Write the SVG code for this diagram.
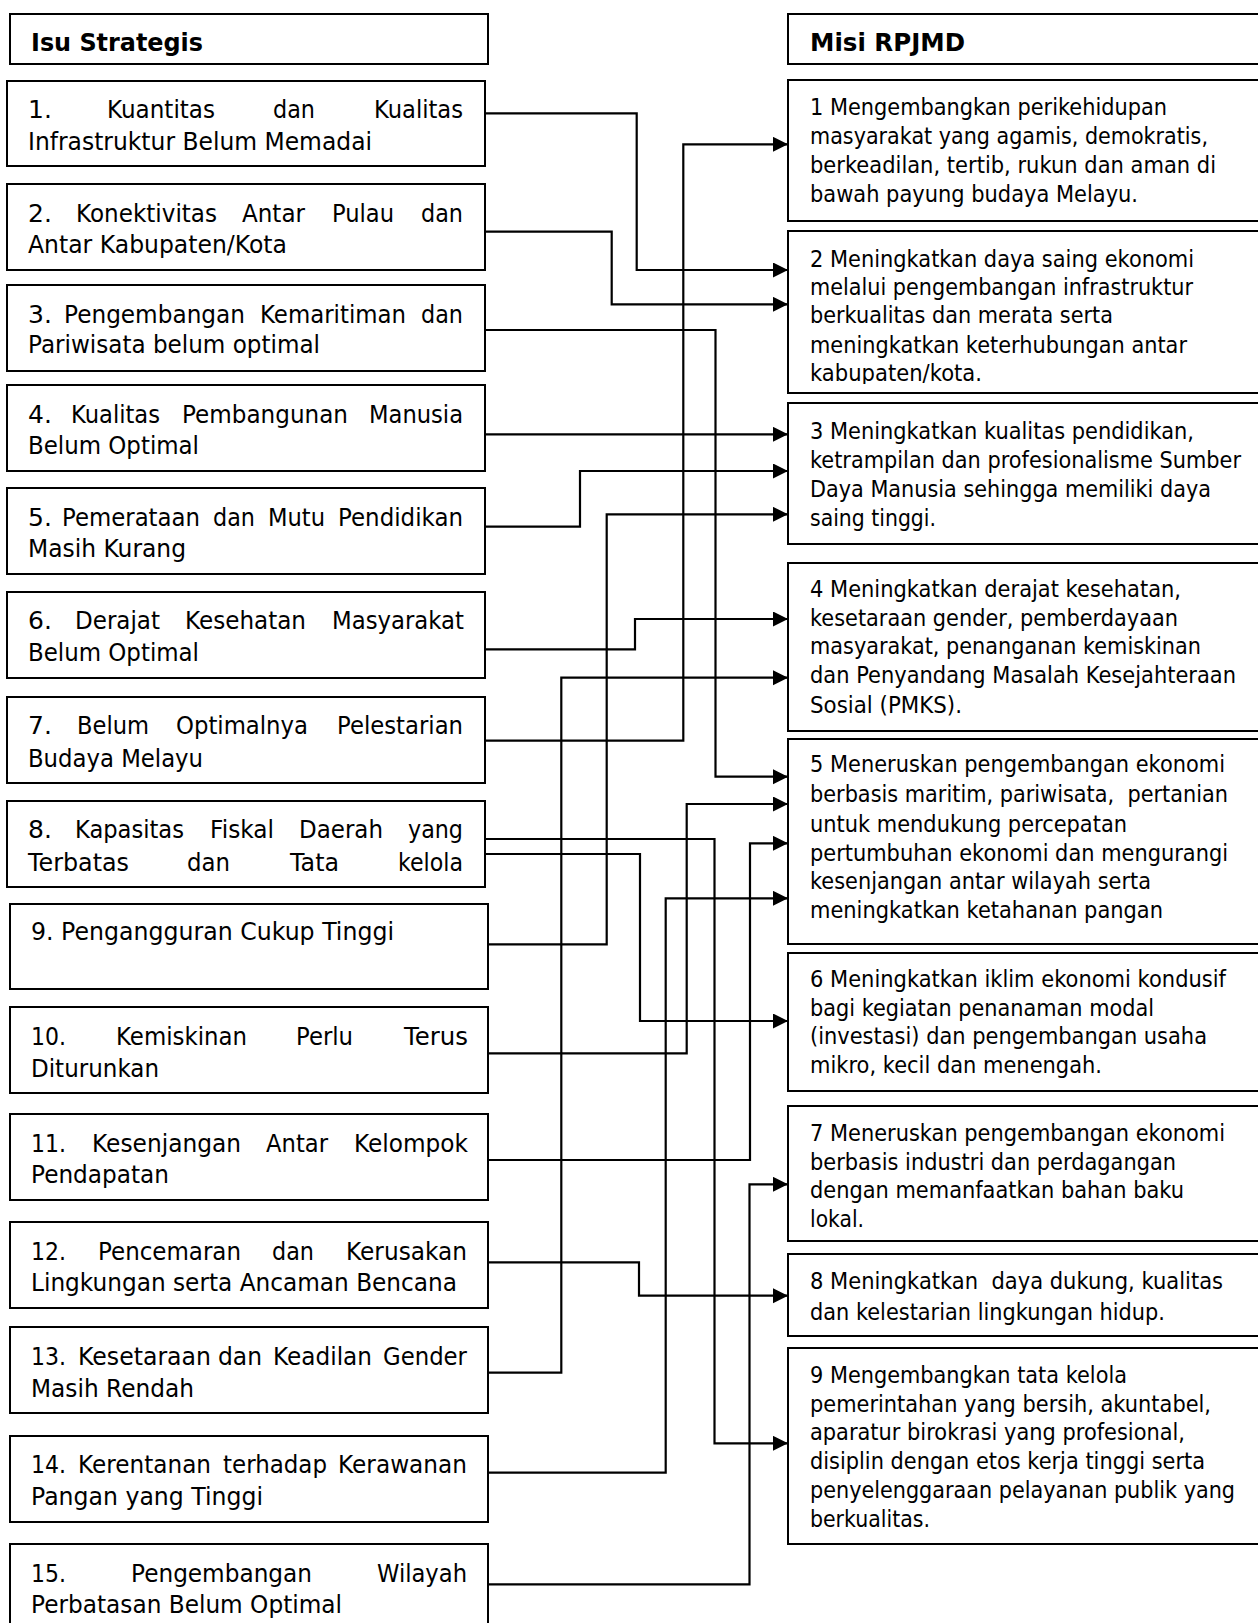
<svg xmlns="http://www.w3.org/2000/svg" width="1258" height="1623" viewBox="0 0 1258 1623">
<style>
.box{fill:#fff;stroke:#000;stroke-width:2}
text{font-family:"DejaVu Sans","Liberation Sans",sans-serif;fill:#000}
.l{font-size:25px}
.r{font-size:22.5px}
.b{font-weight:bold;font-size:25px}
.c{fill:none;stroke:#000;stroke-width:2.2}
</style>
<defs>
<marker id="ah" markerUnits="userSpaceOnUse" markerWidth="16" markerHeight="16" refX="15" refY="7.5" orient="auto">
<path d="M0,0 L15,7.5 L0,15 z" fill="#000"/>
</marker>
<clipPath id="clipR2"><rect x="788" y="231" width="480" height="153"/></clipPath>
</defs>
<rect width="1258" height="1623" fill="#fff"/>

<g id="hdr-left">
<rect class="box" x="10" y="14" width="478" height="50"/>
<text class="b" x="31" y="50.7" textLength="172" lengthAdjust="spacingAndGlyphs">Isu Strategis</text>
</g>
<g id="hdr-right">
<rect class="box" x="788" y="14" width="480" height="50"/>
<text class="b" x="810" y="50.7" textLength="155" lengthAdjust="spacingAndGlyphs">Misi RPJMD</text>
</g>

<g id="isu1">
<rect class="box" x="7" y="81" width="478" height="85"/>
<text class="l" x="28" y="118.3">1.</text>
<text class="l" x="107" y="118.3" textLength="108" lengthAdjust="spacingAndGlyphs">Kuantitas</text>
<text class="l" x="273" y="118.3" textLength="42" lengthAdjust="spacingAndGlyphs">dan</text>
<text class="l" x="374" y="118.3" textLength="89" lengthAdjust="spacingAndGlyphs">Kualitas</text>
<text class="l" x="28" y="150" textLength="344" lengthAdjust="spacingAndGlyphs">Infrastruktur Belum Memadai</text>
</g>
<g id="isu2">
<rect class="box" x="7" y="184" width="478" height="86"/>
<text class="l" x="28" y="221.7">2.</text>
<text class="l" x="76" y="221.7" textLength="141" lengthAdjust="spacingAndGlyphs">Konektivitas</text>
<text class="l" x="242" y="221.7" textLength="63" lengthAdjust="spacingAndGlyphs">Antar</text>
<text class="l" x="332" y="221.7" textLength="62" lengthAdjust="spacingAndGlyphs">Pulau</text>
<text class="l" x="421" y="221.7" textLength="42" lengthAdjust="spacingAndGlyphs">dan</text>
<text class="l" x="28" y="253" textLength="259" lengthAdjust="spacingAndGlyphs">Antar Kabupaten/Kota</text>
</g>
<g id="isu3">
<rect class="box" x="7" y="285" width="478" height="86"/>
<text class="l" x="28" y="322.7">3.</text>
<text class="l" x="64" y="322.7" textLength="181" lengthAdjust="spacingAndGlyphs">Pengembangan</text>
<text class="l" x="260" y="322.7" textLength="146" lengthAdjust="spacingAndGlyphs">Kemaritiman</text>
<text class="l" x="421" y="322.7" textLength="42" lengthAdjust="spacingAndGlyphs">dan</text>
<text class="l" x="28" y="353" textLength="292" lengthAdjust="spacingAndGlyphs">Pariwisata belum optimal</text>
</g>
<g id="isu4">
<rect class="box" x="7" y="385" width="478" height="86"/>
<text class="l" x="28" y="422.7">4.</text>
<text class="l" x="71" y="422.7" textLength="89" lengthAdjust="spacingAndGlyphs">Kualitas</text>
<text class="l" x="182" y="422.7" textLength="166" lengthAdjust="spacingAndGlyphs">Pembangunan</text>
<text class="l" x="369" y="422.7" textLength="94" lengthAdjust="spacingAndGlyphs">Manusia</text>
<text class="l" x="28" y="454" textLength="171" lengthAdjust="spacingAndGlyphs">Belum Optimal</text>
</g>
<g id="isu5">
<rect class="box" x="7" y="488" width="478" height="86"/>
<text class="l" x="28" y="525.7">5.</text>
<text class="l" x="62" y="525.7" textLength="138" lengthAdjust="spacingAndGlyphs">Pemerataan</text>
<text class="l" x="213" y="525.7" textLength="42" lengthAdjust="spacingAndGlyphs">dan</text>
<text class="l" x="268" y="525.7" textLength="57" lengthAdjust="spacingAndGlyphs">Mutu</text>
<text class="l" x="338" y="525.7" textLength="125" lengthAdjust="spacingAndGlyphs">Pendidikan</text>
<text class="l" x="28" y="556.7" textLength="158" lengthAdjust="spacingAndGlyphs">Masih Kurang</text>
</g>
<g id="isu6">
<rect class="box" x="7" y="592" width="478" height="86"/>
<text class="l" x="28" y="629">6.</text>
<text class="l" x="75" y="629" textLength="85" lengthAdjust="spacingAndGlyphs">Derajat</text>
<text class="l" x="185" y="629" textLength="121" lengthAdjust="spacingAndGlyphs">Kesehatan</text>
<text class="l" x="332" y="629" textLength="132" lengthAdjust="spacingAndGlyphs">Masyarakat</text>
<text class="l" x="28" y="660.7" textLength="171" lengthAdjust="spacingAndGlyphs">Belum Optimal</text>
</g>
<g id="isu7">
<rect class="box" x="7" y="697" width="478" height="86"/>
<text class="l" x="28" y="734">7.</text>
<text class="l" x="77" y="734" textLength="72" lengthAdjust="spacingAndGlyphs">Belum</text>
<text class="l" x="176" y="734" textLength="132" lengthAdjust="spacingAndGlyphs">Optimalnya</text>
<text class="l" x="337" y="734" textLength="126" lengthAdjust="spacingAndGlyphs">Pelestarian</text>
<text class="l" x="28" y="766.7" textLength="175" lengthAdjust="spacingAndGlyphs">Budaya Melayu</text>
</g>
<g id="isu8">
<rect class="box" x="7" y="801" width="478" height="86"/>
<text class="l" x="28" y="838">8.</text>
<text class="l" x="75" y="838" textLength="109" lengthAdjust="spacingAndGlyphs">Kapasitas</text>
<text class="l" x="210" y="838" textLength="64" lengthAdjust="spacingAndGlyphs">Fiskal</text>
<text class="l" x="299" y="838" textLength="84" lengthAdjust="spacingAndGlyphs">Daerah</text>
<text class="l" x="408" y="838" textLength="55" lengthAdjust="spacingAndGlyphs">yang</text>
<text class="l" x="28" y="871" textLength="101" lengthAdjust="spacingAndGlyphs">Terbatas</text>
<text class="l" x="187" y="871" textLength="43" lengthAdjust="spacingAndGlyphs">dan</text>
<text class="l" x="290" y="871" textLength="49" lengthAdjust="spacingAndGlyphs">Tata</text>
<text class="l" x="398" y="871" textLength="65" lengthAdjust="spacingAndGlyphs">kelola</text>
</g>
<g id="isu9">
<rect class="box" x="10" y="904" width="478" height="85"/>
<text class="l" x="31" y="940" textLength="363" lengthAdjust="spacingAndGlyphs">9. Pengangguran Cukup Tinggi</text>
</g>
<g id="isu10">
<rect class="box" x="10" y="1007" width="478" height="86"/>
<text class="l" x="31" y="1045" textLength="35" lengthAdjust="spacingAndGlyphs">10.</text>
<text class="l" x="116" y="1045" textLength="131" lengthAdjust="spacingAndGlyphs">Kemiskinan</text>
<text class="l" x="296" y="1045" textLength="57" lengthAdjust="spacingAndGlyphs">Perlu</text>
<text class="l" x="404" y="1045" textLength="64" lengthAdjust="spacingAndGlyphs">Terus</text>
<text class="l" x="31" y="1076.7" textLength="128" lengthAdjust="spacingAndGlyphs">Diturunkan</text>
</g>
<g id="isu11">
<rect class="box" x="10" y="1114" width="478" height="86"/>
<text class="l" x="31" y="1151.7" textLength="35" lengthAdjust="spacingAndGlyphs">11.</text>
<text class="l" x="92" y="1151.7" textLength="149" lengthAdjust="spacingAndGlyphs">Kesenjangan</text>
<text class="l" x="266" y="1151.7" textLength="62" lengthAdjust="spacingAndGlyphs">Antar</text>
<text class="l" x="354" y="1151.7" textLength="114" lengthAdjust="spacingAndGlyphs">Kelompok</text>
<text class="l" x="31" y="1183" textLength="138" lengthAdjust="spacingAndGlyphs">Pendapatan</text>
</g>
<g id="isu12">
<rect class="box" x="10" y="1222" width="478" height="86"/>
<text class="l" x="31" y="1260" textLength="35" lengthAdjust="spacingAndGlyphs">12.</text>
<text class="l" x="98" y="1260" textLength="143" lengthAdjust="spacingAndGlyphs">Pencemaran</text>
<text class="l" x="272" y="1260" textLength="42" lengthAdjust="spacingAndGlyphs">dan</text>
<text class="l" x="346" y="1260" textLength="121" lengthAdjust="spacingAndGlyphs">Kerusakan</text>
<text class="l" x="31" y="1291" textLength="426" lengthAdjust="spacingAndGlyphs">Lingkungan serta Ancaman Bencana</text>
</g>
<g id="isu13">
<rect class="box" x="10" y="1327" width="478" height="86"/>
<text class="l" x="31" y="1365" textLength="35" lengthAdjust="spacingAndGlyphs">13.</text>
<text class="l" x="78" y="1365" textLength="133" lengthAdjust="spacingAndGlyphs">Kesetaraan</text>
<text class="l" x="218" y="1365" textLength="44" lengthAdjust="spacingAndGlyphs">dan</text>
<text class="l" x="273" y="1365" textLength="99" lengthAdjust="spacingAndGlyphs">Keadilan</text>
<text class="l" x="383" y="1365" textLength="84" lengthAdjust="spacingAndGlyphs">Gender</text>
<text class="l" x="31" y="1396.7" textLength="163" lengthAdjust="spacingAndGlyphs">Masih Rendah</text>
</g>
<g id="isu14">
<rect class="box" x="10" y="1436" width="478" height="86"/>
<text class="l" x="31" y="1473" textLength="35" lengthAdjust="spacingAndGlyphs">14.</text>
<text class="l" x="78" y="1473" textLength="133" lengthAdjust="spacingAndGlyphs">Kerentanan</text>
<text class="l" x="223" y="1473" textLength="104" lengthAdjust="spacingAndGlyphs">terhadap</text>
<text class="l" x="338" y="1473" textLength="129" lengthAdjust="spacingAndGlyphs">Kerawanan</text>
<text class="l" x="31" y="1505" textLength="232" lengthAdjust="spacingAndGlyphs">Pangan yang Tinggi</text>
</g>
<g id="isu15">
<rect class="box" x="10" y="1544" width="478" height="90"/>
<text class="l" x="31" y="1582" textLength="35" lengthAdjust="spacingAndGlyphs">15.</text>
<text class="l" x="131" y="1582" textLength="181" lengthAdjust="spacingAndGlyphs">Pengembangan</text>
<text class="l" x="377" y="1582" textLength="90" lengthAdjust="spacingAndGlyphs">Wilayah</text>
<text class="l" x="31" y="1613" textLength="311" lengthAdjust="spacingAndGlyphs">Perbatasan Belum Optimal</text>
</g>

<g id="misi1">
<rect class="box" x="788" y="80" width="480" height="141"/>
<text class="r" x="810" y="115" textLength="357" lengthAdjust="spacingAndGlyphs">1 Mengembangkan perikehidupan</text>
<text class="r" x="810" y="144" textLength="398" lengthAdjust="spacingAndGlyphs">masyarakat yang agamis, demokratis,</text>
<text class="r" x="810" y="172.7" textLength="406" lengthAdjust="spacingAndGlyphs">berkeadilan, tertib, rukun dan aman di</text>
<text class="r" x="810" y="201.7" textLength="328" lengthAdjust="spacingAndGlyphs">bawah payung budaya Melayu.</text>
</g>
<g id="misi2">
<rect class="box" x="788" y="231" width="480" height="162"/>
<g clip-path="url(#clipR2)">
<text class="r" x="810" y="266.7" textLength="384" lengthAdjust="spacingAndGlyphs">2 Meningkatkan daya saing ekonomi</text>
<text class="r" x="810" y="295" textLength="383" lengthAdjust="spacingAndGlyphs">melalui pengembangan infrastruktur</text>
<text class="r" x="810" y="323.3" textLength="303" lengthAdjust="spacingAndGlyphs">berkualitas dan merata serta</text>
<text class="r" x="810" y="352.7" textLength="377" lengthAdjust="spacingAndGlyphs">meningkatkan keterhubungan antar</text>
<text class="r" x="810" y="381" textLength="172" lengthAdjust="spacingAndGlyphs">kabupaten/kota.</text>
</g>
</g>
<g id="misi3">
<rect class="box" x="788" y="403" width="480" height="141"/>
<text class="r" x="810" y="439" textLength="384" lengthAdjust="spacingAndGlyphs">3 Meningkatkan kualitas pendidikan,</text>
<text class="r" x="810" y="468" textLength="431" lengthAdjust="spacingAndGlyphs">ketrampilan dan profesionalisme Sumber</text>
<text class="r" x="810" y="496.7" textLength="401" lengthAdjust="spacingAndGlyphs">Daya Manusia sehingga memiliki daya</text>
<text class="r" x="810" y="525.7" textLength="126" lengthAdjust="spacingAndGlyphs">saing tinggi.</text>
</g>
<g id="misi4">
<rect class="box" x="788" y="563" width="480" height="168"/>
<text class="r" x="810" y="596.7" textLength="371" lengthAdjust="spacingAndGlyphs">4 Meningkatkan derajat kesehatan,</text>
<text class="r" x="810" y="625.7" textLength="368" lengthAdjust="spacingAndGlyphs">kesetaraan gender, pemberdayaan</text>
<text class="r" x="810" y="654" textLength="391" lengthAdjust="spacingAndGlyphs">masyarakat, penanganan kemiskinan</text>
<text class="r" x="810" y="683.3" textLength="426" lengthAdjust="spacingAndGlyphs">dan Penyandang Masalah Kesejahteraan</text>
<text class="r" x="810" y="712.7" textLength="152" lengthAdjust="spacingAndGlyphs">Sosial (PMKS).</text>
</g>
<g id="misi5">
<rect class="box" x="788" y="739" width="480" height="205"/>
<text class="r" x="810" y="772.3" textLength="415" lengthAdjust="spacingAndGlyphs">5 Meneruskan pengembangan ekonomi</text>
<text class="r" x="810" y="802" textLength="418" lengthAdjust="spacingAndGlyphs" xml:space="preserve">berbasis maritim, pariwisata,  pertanian</text>
<text class="r" x="810" y="831.5" textLength="317" lengthAdjust="spacingAndGlyphs">untuk mendukung percepatan</text>
<text class="r" x="810" y="860.7" textLength="418" lengthAdjust="spacingAndGlyphs">pertumbuhan ekonomi dan mengurangi</text>
<text class="r" x="810" y="889" textLength="341" lengthAdjust="spacingAndGlyphs">kesenjangan antar wilayah serta</text>
<text class="r" x="810" y="917.7" textLength="353" lengthAdjust="spacingAndGlyphs">meningkatkan ketahanan pangan</text>
</g>
<g id="misi6">
<rect class="box" x="788" y="953" width="480" height="138"/>
<text class="r" x="810" y="986.7" textLength="416" lengthAdjust="spacingAndGlyphs">6 Meningkatkan iklim ekonomi kondusif</text>
<text class="r" x="810" y="1015.7" textLength="344" lengthAdjust="spacingAndGlyphs">bagi kegiatan penanaman modal</text>
<text class="r" x="810" y="1044.3" textLength="397" lengthAdjust="spacingAndGlyphs">(investasi) dan pengembangan usaha</text>
<text class="r" x="810" y="1073.3" textLength="292" lengthAdjust="spacingAndGlyphs">mikro, kecil dan menengah.</text>
</g>
<g id="misi7">
<rect class="box" x="788" y="1106" width="480" height="135"/>
<text class="r" x="810" y="1140.7" textLength="415" lengthAdjust="spacingAndGlyphs">7 Meneruskan pengembangan ekonomi</text>
<text class="r" x="810" y="1170" textLength="366" lengthAdjust="spacingAndGlyphs">berbasis industri dan perdagangan</text>
<text class="r" x="810" y="1198.3" textLength="374" lengthAdjust="spacingAndGlyphs">dengan memanfaatkan bahan baku</text>
<text class="r" x="810" y="1226.7" textLength="54" lengthAdjust="spacingAndGlyphs">lokal.</text>
</g>
<g id="misi8">
<rect class="box" x="788" y="1254" width="480" height="82"/>
<text class="r" x="810" y="1289.3" textLength="413" lengthAdjust="spacingAndGlyphs" xml:space="preserve">8 Meningkatkan  daya dukung, kualitas</text>
<text class="r" x="810" y="1320" textLength="355" lengthAdjust="spacingAndGlyphs">dan kelestarian lingkungan hidup.</text>
</g>
<g id="misi9">
<rect class="box" x="788" y="1348" width="480" height="196"/>
<text class="r" x="810" y="1382.7" textLength="317" lengthAdjust="spacingAndGlyphs">9 Mengembangkan tata kelola</text>
<text class="r" x="810" y="1411.7" textLength="401" lengthAdjust="spacingAndGlyphs">pemerintahan yang bersih, akuntabel,</text>
<text class="r" x="810" y="1440" textLength="375" lengthAdjust="spacingAndGlyphs">aparatur birokrasi yang profesional,</text>
<text class="r" x="810" y="1469" textLength="395" lengthAdjust="spacingAndGlyphs">disiplin dengan etos kerja tinggi serta</text>
<text class="r" x="810" y="1497.7" textLength="425" lengthAdjust="spacingAndGlyphs">penyelenggaraan pelayanan publik yang</text>
<text class="r" x="810" y="1526.7" textLength="120" lengthAdjust="spacingAndGlyphs">berkualitas.</text>
</g>

<g id="connectors">
<polyline class="c" marker-end="url(#ah)" points="485,113.3 636.7,113.3 636.7,270 788,270"/>
<polyline class="c" marker-end="url(#ah)" points="485,231.7 611.7,231.7 611.7,304.3 788,304.3"/>
<polyline class="c" marker-end="url(#ah)" points="485,330 715.5,330 715.5,776.7 788,776.7"/>
<polyline class="c" marker-end="url(#ah)" points="485,434.3 788,434.3"/>
<polyline class="c" marker-end="url(#ah)" points="485,526.7 580,526.7 580,471 788,471"/>
<polyline class="c" marker-end="url(#ah)" points="485,649.3 635,649.3 635,619 788,619"/>
<polyline class="c" marker-end="url(#ah)" points="485,740.7 683.3,740.7 683.3,144.3 788,144.3"/>
<polyline class="c" marker-end="url(#ah)" points="485,839 714.5,839 714.5,1443.3 788,1443.3"/>
<polyline class="c" marker-end="url(#ah)" points="485,854 640,854 640,1021 788,1021"/>
<polyline class="c" marker-end="url(#ah)" points="488,944.3 606.7,944.3 606.7,514.3 788,514.3"/>
<polyline class="c" marker-end="url(#ah)" points="488,1053.3 686.7,1053.3 686.7,804 788,804"/>
<polyline class="c" marker-end="url(#ah)" points="488,1160 750,1160 750,843.3 788,843.3"/>
<polyline class="c" marker-end="url(#ah)" points="488,1262.3 639,1262.3 639,1295.7 788,1295.7"/>
<polyline class="c" marker-end="url(#ah)" points="488,1372.7 561.3,1372.7 561.3,677.7 788,677.7"/>
<polyline class="c" marker-end="url(#ah)" points="488,1472.7 665.7,1472.7 665.7,898.3 788,898.3"/>
<polyline class="c" marker-end="url(#ah)" points="488,1584.3 749.5,1584.3 749.5,1184.3 788,1184.3"/>
</g>
</svg>
